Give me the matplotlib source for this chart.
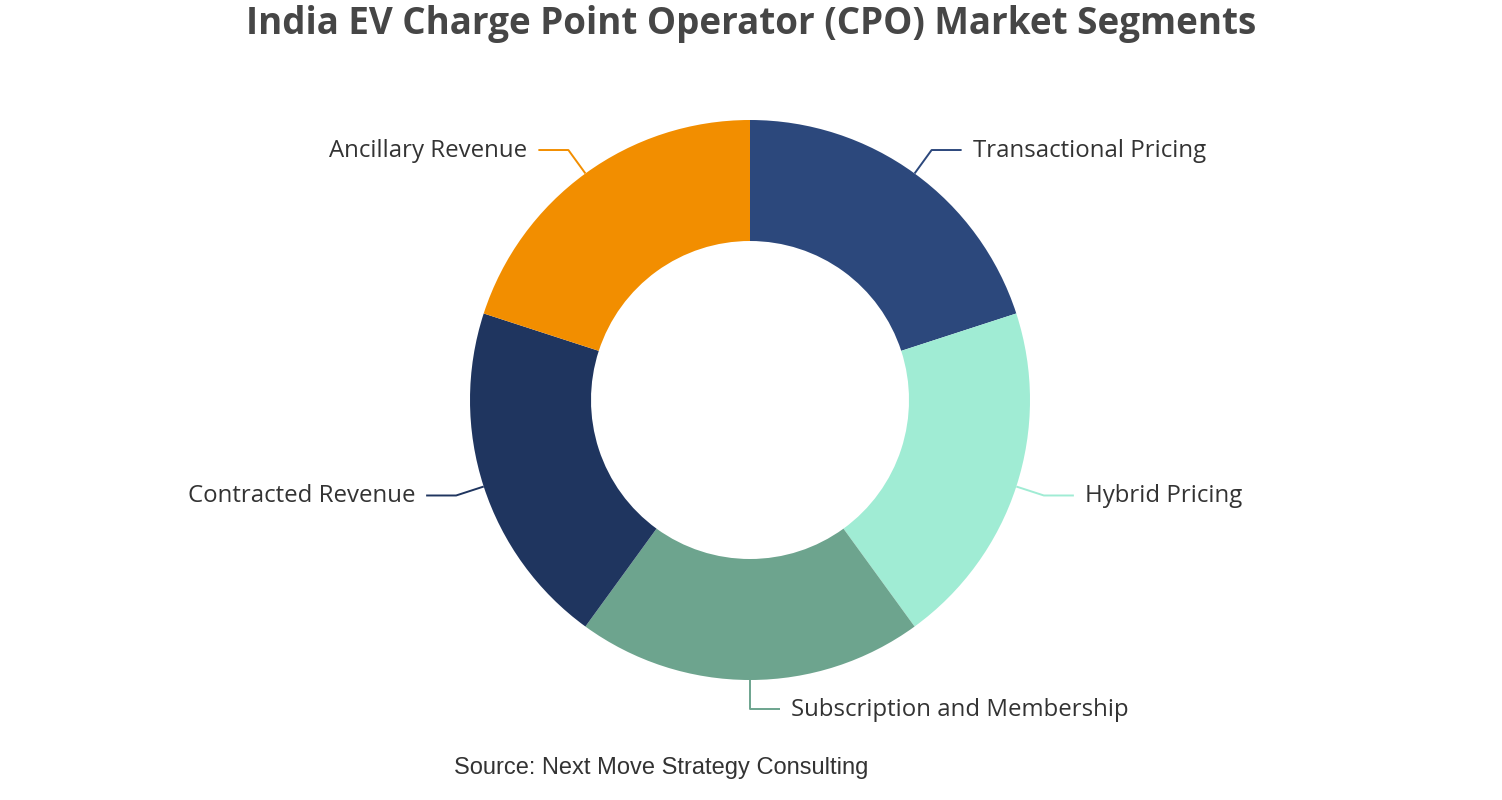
import numpy as np
import matplotlib
matplotlib.use("Agg")
import matplotlib.pyplot as plt

# segment names and shares (all equal in the reference)
segments = ["Transactional Pricing", "Hybrid Pricing", "Subscription and Membership",
            "Contracted Revenue", "Ancillary Revenue"]
shares = [20, 20, 20, 20, 20]
colors = ["#2c487c", "#a0ecd4", "#6da48e", "#1f355f", "#f28e00"]

fig = plt.figure(figsize=(15.02, 8.0), dpi=100)
ax = fig.add_axes([0, 0, 1, 1])

cx, cy = 750, 400
r_out, r_in = 280, 159

wedges, _ = ax.pie(shares, colors=colors, startangle=90, counterclock=False,
                   radius=r_out, center=(cx, cy),
                   wedgeprops=dict(width=r_out - r_in, linewidth=0))
ax.set_xlim(0, 1502)
ax.set_ylim(0, 800)
ax.set_aspect("equal")
ax.axis("off")

# labels with elbow leader lines
ext, hor, gap = 29, 30, 11
for w, name, col in zip(wedges, segments, colors):
    ang = np.deg2rad((w.theta1 + w.theta2) / 2)
    x0, y0 = cx + r_out * np.cos(ang), cy + r_out * np.sin(ang)
    x1, y1 = cx + (r_out + ext) * np.cos(ang), cy + (r_out + ext) * np.sin(ang)
    side = -1 if np.cos(ang) < -1e-6 else 1
    x2 = x1 + side * hor
    ax.plot([x0, x1, x2], [y0, y1, y1], color=col, lw=1.4, solid_capstyle="butt")
    ax.text(x2 + side * gap, y1 - 1, name, ha="left" if side > 0 else "right", va="center",
            fontsize=17.3, color="#333333", family=["Open Sans", "DejaVu Sans"])

fig.text(0.5, 1 - 24 / 800, "India EV Charge Point Operator (CPO) Market Segments",
         ha="center", va="center", fontsize=26.5, fontweight="bold", color="#464646",
         family=["Open Sans", "DejaVu Sans"])
fig.text(661 / 1502, 1 - 768 / 800, "Source: Next Move Strategy Consulting",
         ha="center", va="center", fontsize=17, color="#333333",
         family=["Liberation Sans", "DejaVu Sans"])

fig.savefig("out.png", dpi=100)
